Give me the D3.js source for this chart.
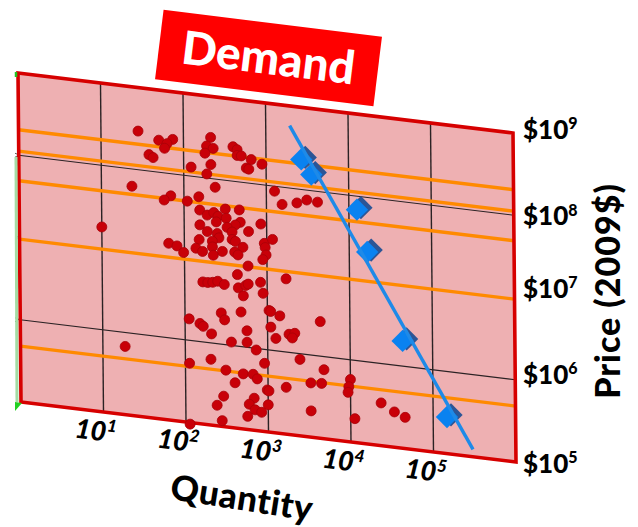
<!DOCTYPE html>
<meta charset="utf-8">
<html>
  <head>
  <title>Demand</title>
    <style>
      body { margin: 0; background: #fff; font-family: 'Lato', sans-serif; }
      svg { display: block; }
      text { font-family: 'Lato', sans-serif; font-weight: 900; fill: #000; }
    </style>
  </head>
  <body>
  <div id="svgCanvas"></div>

<script src="https://d3js.org/d3.v7.min.js"></script>
<script>

// exponents (log10 of quantity / price)
var dotQuantity = [1.45,1.70,1.87,1.80,1.77,1.58,1.63,2.09,1.37,1.84,1.76,2.04,1.00,1.81,1.91,1.99,
  2.33,2.28,2.36,2.26,2.60,2.65,2.65,2.70,2.82,2.95,2.76,2.79,2.33,2.28,2.38,3.10,3.19,3.37,3.49,3.62,
  2.18,2.19,2.28,2.36,2.41,2.50,2.67,2.51,2.39,2.19,2.68,2.62,2.52,2.58,2.28,2.40,2.78,2.93,
  2.42,2.34,2.18,2.58,2.62,2.97,3.07,2.98,2.71,2.34,2.14,2.22,2.46,2.61,2.65,2.99,2.95,2.35,
  2.77,2.64,3.23,2.22,2.28,2.34,2.40,2.48,2.65,2.74,2.77,2.92,2.95,2.71,
  1.27,2.05,2.18,2.22,2.32,2.44,2.48,2.68,3.02,3.04,3.15,3.64,3.04,2.75,2.56,2.75,2.86,3.10,3.26,3.33,3.30,3.39,
  2.05,2.31,2.96,2.49,2.70,2.82,2.87,2.60,2.99,3.01,3.22,3.52,3.65,3.68,
  2.46,2.38,2.83,2.77,3.00,2.84,2.92,2.75,2.44,2.05,3.52,4.00,3.98,3.97,4.37,4.53,4.66,4.05];
var dotPrice = [8.47,8.39,8.42,8.36,8.30,8.20,8.17,8.11,7.79,7.73,7.67,7.69,7.25,7.15,7.13,7.06,
  8.50,8.39,8.37,8.30,8.42,8.39,8.32,8.32,8.29,8.25,8.18,8.17,8.17,8.05,7.90,7.94,7.79,7.83,7.88,7.87,
  7.76,7.60,7.55,7.59,7.55,7.65,7.66,7.54,7.48,7.42,7.51,7.47,7.43,7.38,7.35,7.34,7.41,7.52,
  7.29,7.24,7.24,7.29,7.27,7.29,7.35,7.24,7.21,7.17,7.13,7.10,7.13,7.14,7.11,7.15,7.09,7.07,
  6.99,6.87,6.89,6.73,6.73,6.74,6.76,6.73,6.71,6.75,6.77,6.81,6.68,6.62,
  5.83,6.26,6.22,6.19,6.11,6.38,6.30,6.42,6.48,6.47,6.43,6.42,6.28,6.20,6.04,6.06,5.98,6.15,6.22,6.24,6.18,5.93,
  5.72,5.80,5.83,5.69,5.67,5.68,5.63,5.55,5.51,5.50,5.57,5.66,5.67,5.84,
  5.37,5.25,5.39,5.31,5.33,5.25,5.23,5.16,5.07,4.98,5.32,5.76,5.67,5.60,5.52,5.43,5.38,5.29];

var diamondQuantity = [3.44,3.56,4.11,4.23,4.65,5.18];
var diamondPrice = [8.38,8.21,7.85,7.35,6.32,5.46];

var fitQuantity = [3.29,5.48];
var fitPrice = [8.76,5.09];

var orangePrices = [8.31,8.05,7.69,6.98,5.68];
var blackPrices = [6,8];
var quantityTicks = [1,2,3,4,5];
var priceTicks = [9,8,7,6,5];

var pow10 = function (e) { return Math.pow(10, e); };

var width = 638;
var height = 527;

var x = d3.scaleLog().domain([1, 1e6]).range([0, 495]);
var y = d3.scaleLog().domain([1e5, 1e9]).range([0, 329]);

// the plot plane is sheared: bottom left corner at 21,402
function px(q, p) { return 21 + x(q) - y(p) * 3 / 329; }
function py(q, p) { return 402 - y(p) + x(q) * 60 / 495; }

var holder = d3.select("#svgCanvas")
    .append("svg")
      .attr("width", width)
      .attr("height", height);

var line = d3.line()
    .x(function (d) { return px(d[0], d[1]); })
    .y(function (d) { return py(d[0], d[1]); });

var qMin = 1, qMax = 1e6, pMin = 1e5, pMax = 1e9;
var corners = [[qMin, pMin], [qMax, pMin], [qMax, pMax], [qMin, pMax]];

holder.append("path")
    .attr("d", line(corners) + "Z")
    .style("fill", "#eeb0b2");

// left tick marks
[6, 7, 8].forEach(function (e) {
  holder.append("path")
      .attr("d", "M15," + (py(qMin, pow10(e)) + 2) + "L20," + (py(qMin, pow10(e)) - 1) + "M15," + (py(qMin, pow10(e)) - 2) + "L20," + py(qMin, pow10(e)))
      .style("fill", "none").style("stroke", "#333").style("stroke-width", 0.8);
});

// grid
holder.selectAll(".vgrid")
  .data(quantityTicks).enter()
    .append("path")
    .attr("class", "vgrid")
    .attr("d", function (d) { return line([[pow10(d), pMin], [pow10(d), pMax]]); })
    .style("fill", "none").style("stroke", "#2b2224").style("stroke-width", 1.4);

holder.selectAll(".hgrid")
  .data(blackPrices).enter()
    .append("path")
    .attr("class", "hgrid")
    .attr("d", function (d) { return line([[qMin, pow10(d)], [qMax, pow10(d)]]); })
    .style("fill", "none").style("stroke", "#2b2224").style("stroke-width", 1.1);

holder.selectAll(".orange")
  .data(orangePrices).enter()
    .append("path")
    .attr("class", "orange")
    .attr("d", function (d) { return line([[qMin, pow10(d)], [qMax, pow10(d)]]); })
    .style("fill", "none").style("stroke", "#ff8a00").style("stroke-width", 3.4);

// frame
holder.append("path")
    .attr("d", line(corners) + "Z")
    .style("fill", "none").style("stroke", "#d60000").style("stroke-width", 3.6);

// green strip on the left edge, sits just outside the frame
holder.append("line")
    .attr("x1", 16).attr("y1", 157).attr("x2", 17).attr("y2", 402)
    .style("stroke", "#a4dca4").style("stroke-width", 3);
holder.append("line")
    .attr("x1", 16).attr("y1", 72).attr("x2", 16).attr("y2", 77)
    .style("stroke", "#22c422").style("stroke-width", 2.5);
holder.append("path")
    .attr("d", "M15,402L22,403L15,411Z")
    .style("fill", "#22d022");

// scatter
holder.selectAll(".dot")
  .data(dotQuantity).enter()
    .append("circle")
    .attr("class", "dot")
    .attr("r", 5)
    .attr("cx", function (d, i) { return px(pow10(d), pow10(dotPrice[i])); })
    .attr("cy", function (d, i) { return py(pow10(d), pow10(dotPrice[i])); })
    .style("fill", "#c80008").style("stroke", "#a80008").style("stroke-width", 0.8);

// diamonds, with a dark back side
holder.selectAll(".diamondBack")
  .data(diamondQuantity).enter()
    .append("path")
    .attr("class", "diamondBack")
    .attr("d", d3.symbol().type(d3.symbolSquare).size(270)())
    .attr("transform", function (d, i) {
      return "translate(" + (px(pow10(d), pow10(diamondPrice[i])) + 3) + "," + (py(pow10(d), pow10(diamondPrice[i])) - 1) + ") rotate(45)";
    })
    .style("fill", "#2c5596");
holder.selectAll(".diamondFront")
  .data(diamondQuantity).enter()
    .append("path")
    .attr("class", "diamondFront")
    .attr("d", d3.symbol().type(d3.symbolSquare).size(250)())
    .attr("transform", function (d, i) {
      return "translate(" + (px(pow10(d), pow10(diamondPrice[i])) - 1) + "," + (py(pow10(d), pow10(diamondPrice[i])) + 1) + ") rotate(45)";
    })
    .style("fill", "#0a82f0");

holder.append("path")
    .attr("d", line(fitQuantity.map(function (d, i) { return [pow10(d), pow10(fitPrice[i])]; })))
    .style("fill", "none").style("stroke", "#1e8ae8").style("stroke-width", 3.4);

// title box
var title = holder.append("g")
    .attr("transform", "translate(268.5,58) rotate(7)");
title.append("rect")
    .attr("x", -110).attr("y", -35).attr("width", 220).attr("height", 70)
    .style("fill", "#ff0000");
title.append("text")
    .attr("text-anchor", "middle").attr("y", 16)
    .style("font-size", "46px").style("fill", "#fff")
    .text("Demand");

function powerLabel(sel, prefix, e, supSize) {
  sel.append("tspan").text(prefix + "10");
  sel.append("tspan")
      .attr("dy", -supSize * 0.6)
      .style("font-size", supSize + "px")
      .text(e);
}

// quantity tick labels
quantityTicks.forEach(function (e) {
  var tx = px(pow10(e), pMin), ty = py(pow10(e), pMin);
  var t = holder.append("text")
      .attr("text-anchor", "middle")
      .attr("transform", "translate(" + (tx - 9) + "," + (ty + 28) + ") rotate(7)")
      .style("font-size", "27px").style("font-style", "italic");
  powerLabel(t, "", e, 17);
});

// price tick labels
var priceNudge = [6, 10, 0, 4, 11];
priceTicks.forEach(function (e, i) {
  var t = holder.append("text")
      .attr("x", 523)
      .attr("y", py(qMax, pow10(e)) + priceNudge[i])
      .style("font-size", "26px");
  powerLabel(t, "$", e, 16);
});

holder.append("text")
    .attr("text-anchor", "middle")
    .attr("transform", "translate(620,291) rotate(-90)")
    .style("font-size", "34px")
    .style("letter-spacing", "1px")
    .text("Price (2009$)");

holder.append("text")
    .attr("text-anchor", "middle")
    .attr("transform", "translate(240,510) rotate(9)")
    .style("font-size", "35px")
    .style("letter-spacing", "0.5px")
    .text("Quantity");

</script>
  </body>
</html>
